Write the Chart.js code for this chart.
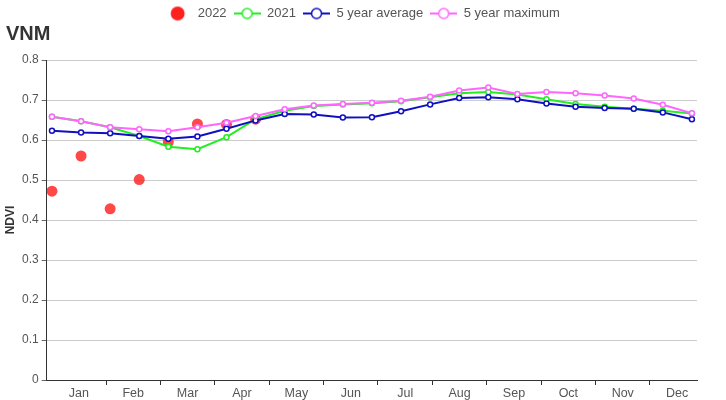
<!DOCTYPE html>
<html>
<head>
<meta charset="utf-8">
<script src="https://cdn.jsdelivr.net/npm/chart.js@4.4.1/dist/chart.umd.min.js"></script>
<style>
  body { margin: 0; background: #fff; }
  #wrap { width: 726px; height: 400px; }
</style>
</head>
<body>
<div id="wrap"><canvas id="ndviChart" width="726" height="400"></canvas></div>
<script>
// 16-day composites (day of year of each composite start)
const compositeDays = [1, 17, 33, 49, 65, 81, 97, 113, 129, 145, 161, 177,
    193, 209, 225, 241, 257, 273, 289, 305, 321, 337, 353];
const monthLabels = ['Jan', 'Feb', 'Mar', 'Apr', 'May', 'Jun',
    'Jul', 'Aug', 'Sep', 'Oct', 'Nov', 'Dec'];

const ndvi2022 = [0.472, 0.560, 0.428, 0.501, 0.595, 0.640, 0.639, 0.652];
const ndvi2021 = [0.658, 0.647, 0.632, 0.610, 0.583, 0.577, 0.607, 0.652, 0.673, 0.685, 0.689, 0.692,
    0.697, 0.707, 0.717, 0.720, 0.714, 0.702, 0.690, 0.683, 0.678, 0.673, 0.666];
const ndviAvg5 = [0.623, 0.619, 0.617, 0.610, 0.603, 0.609, 0.628, 0.649, 0.665, 0.664, 0.656, 0.657,
    0.672, 0.689, 0.705, 0.707, 0.702, 0.691, 0.683, 0.680, 0.678, 0.669, 0.652];
const ndviMax5 = [0.658, 0.647, 0.632, 0.627, 0.622, 0.632, 0.643, 0.660, 0.677, 0.686, 0.690, 0.693,
    0.698, 0.708, 0.724, 0.731, 0.715, 0.720, 0.717, 0.711, 0.704, 0.688, 0.667];

const colors = {
    y2022: 'rgba(255, 40, 40, 0.85)',
    y2021: '#22ee22',
    avg: '#1010c0',
    max: '#ff66ff'
};

// month bands on the day axis
const monthStart = 0.8;
const monthSpan = 29.92;

Chart.defaults.font.family = "'Liberation Sans', Arial, sans-serif";

function toPoints(values) {
    return values.map((v, i) => ({ x: compositeDays[i], y: v }));
}

function legendIcon(color, filled) {
    const c = document.createElement('canvas');
    c.width = 27;
    c.height = 16;
    const g = c.getContext('2d');
    if (filled) {
        g.fillStyle = color;
        g.beginPath();
        g.arc(13.5, 8, 7, 0, Math.PI * 2);
        g.fill();
    } else {
        g.strokeStyle = color;
        g.lineWidth = 2;
        g.beginPath();
        g.moveTo(0, 8);
        g.lineTo(27, 8);
        g.stroke();
        g.fillStyle = '#fff';
        g.lineWidth = 1.5;
        g.beginPath();
        g.arc(13.5, 8, 5, 0, Math.PI * 2);
        g.fill();
        g.stroke();
    }
    return c;
}

function lineSeries(label, values, color, order) {
    return {
        label: label,
        data: toPoints(values),
        borderColor: color,
        backgroundColor: color,
        borderWidth: 2,
        pointRadius: 2.5,
        pointBorderWidth: 1.5,
        pointBorderColor: color,
        pointBackgroundColor: '#fff',
        tension: 0,
        order: order,
        legendIcon: legendIcon(color, false)
    };
}

const datasets = [
    {
        label: '2022',
        data: toPoints(ndvi2022),
        showLine: false,
        pointRadius: 5.5,
        pointBorderWidth: 0,
        pointBackgroundColor: colors.y2022,
        borderColor: colors.y2022,
        order: 4,
        legendIcon: legendIcon('#ff2020', true)
    },
    lineSeries('2021', ndvi2021, colors.y2021, 3),
    lineSeries('5 year average', ndviAvg5, colors.avg, 2),
    lineSeries('5 year maximum', ndviMax5, colors.max, 1)
];

new Chart(document.getElementById('ndviChart').getContext('2d'), {
    type: 'line',
    data: { datasets: datasets },
    options: {
        responsive: false,
        animation: false,
        layout: { padding: { left: 6, right: 8, top: 0, bottom: 0 } },
        plugins: {
            tooltip: { enabled: false },
            legend: {
                position: 'top',
                weight: 3000,
                labels: {
                    usePointStyle: true,
                    pointStyleWidth: 27,
                    padding: 7,
                    color: '#555',
                    font: { size: 13 },
                    generateLabels: function(chart) {
                        return chart.data.datasets.map((ds, i) => ({
                            text: ds.label,
                            pointStyle: ds.legendIcon,
                            fontColor: '#555',
                            lineWidth: 0,
                            hidden: false,
                            datasetIndex: i
                        }));
                    }
                }
            },
            title: {
                display: true,
                text: 'VNM',
                align: 'start',
                color: '#333',
                font: { size: 20, weight: 'bold' },
                padding: { top: -8, bottom: 14 }
            }
        },
        scales: {
            x: {
                type: 'linear',
                bounds: 'data',
                min: -1.9,
                max: 355.8,
                afterBuildTicks: function(scale) {
                    const ticks = [];
                    monthLabels.forEach((m, k) => {
                        if (k > 0) ticks.push({ value: monthStart + monthSpan * k });
                        ticks.push({ value: monthStart + monthSpan * (k + 0.5), month: m });
                    });
                    scale.ticks = ticks;
                },
                afterFit: function(scale) { scale.height = 20; },
                ticks: {
                    autoSkip: false,
                    maxRotation: 0,
                    padding: 1,
                    color: '#555',
                    font: { size: 12.5 },
                    callback: function(value, index, ticks) {
                        return ticks[index].month || '';
                    }
                },
                grid: {
                    drawOnChartArea: false,
                    tickLength: 5,
                    color: ctx => (ctx.tick && ctx.tick.month) ? 'rgba(0,0,0,0)' : '#333',
                    tickColor: ctx => (ctx.tick && ctx.tick.month) ? 'rgba(0,0,0,0)' : '#333'
                },
                border: { display: true, color: '#333', width: 1 }
            },
            y: {
                type: 'linear',
                position: 'left',
                min: 0,
                max: 0.8,
                afterFit: function(scale) { scale.width = 40.7; },
                ticks: {
                    stepSize: 0.1,
                    padding: 3,
                    color: '#555',
                    font: { size: 12 },
                    callback: v => (Math.round(v * 10) / 10).toString()
                },
                grid: {
                    color: '#cccccc',
                    tickColor: '#666',
                    tickLength: 5
                },
                border: { display: true, color: '#333', width: 1 },
                title: {
                    display: true,
                    text: 'NDVI',
                    color: '#333',
                    font: { size: 12, weight: 'bold' },
                    padding: { top: -3, bottom: 0 }
                }
            },
            yRight: {
                type: 'linear',
                position: 'right',
                display: true,
                afterFit: function(scale) { scale.width = 21; },
                ticks: { display: false },
                grid: { display: false },
                border: { display: false }
            }
        }
    }
});
</script>
</body>
</html>
